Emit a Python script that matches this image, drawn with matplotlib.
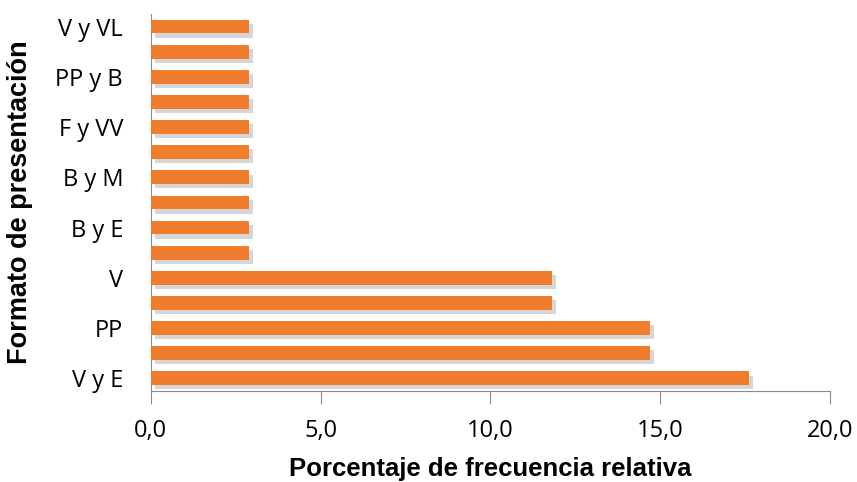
import matplotlib
matplotlib.use('Agg')
import matplotlib.pyplot as plt
import matplotlib.patheffects as pe
import numpy as np

# categories bottom -> top (unlabelled rows left blank as in the source)
categorias = ['V y E', '', 'PP', '', 'V', '', 'B y E', '', 'B y M', '',
              'F y VV', '', 'PP y B', '', 'V y VL']
porcentaje = [17.6, 14.7, 14.7, 11.8, 11.8, 2.9, 2.9, 2.9, 2.9, 2.9,
              2.9, 2.9, 2.9, 2.9, 2.9]
xticks = [0, 5, 10, 15, 20]

fig = plt.figure(figsize=(8.57, 4.82), dpi=100)
ax = fig.add_axes([0.176, 0.189, 0.7925, 0.782])

y = np.arange(len(categorias))
bars = ax.barh(y, porcentaje, height=0.55, color='#F07D2E', zorder=3)
for b in bars:
    b.set_path_effects([pe.SimplePatchShadow(offset=(3, -3), shadow_rgbFace='#8a8a8a', alpha=0.35),
                        pe.Normal()])

ax.set_xlim(0, 20)
ax.set_ylim(-0.5, len(categorias) - 0.5)
ax.set_xticks(xticks)
ax.set_xticklabels([f'{v:.1f}'.replace('.', ',') for v in xticks],
                   fontsize=17, family='Open Sans')
ax.set_yticks(y)
ax.set_yticklabels(categorias, fontsize=17, family='Open Sans')

for s in ['top', 'right']:
    ax.spines[s].set_visible(False)
ax.spines['left'].set_color('#8c8c8c')
ax.spines['bottom'].set_color('#8c8c8c')
ax.tick_params(axis='x', direction='out', length=9, color='#8c8c8c', pad=11)
ax.tick_params(axis='y', length=0, pad=20)

ax.set_xlabel('Porcentaje de frecuencia relativa', fontsize=18.5, fontweight='bold',
              family='Liberation Sans', labelpad=10)
ax.set_ylabel('Formato de presentación', fontsize=19.5, fontweight='bold',
              family='Liberation Sans', labelpad=16)

fig.savefig('out.png', dpi=100)
